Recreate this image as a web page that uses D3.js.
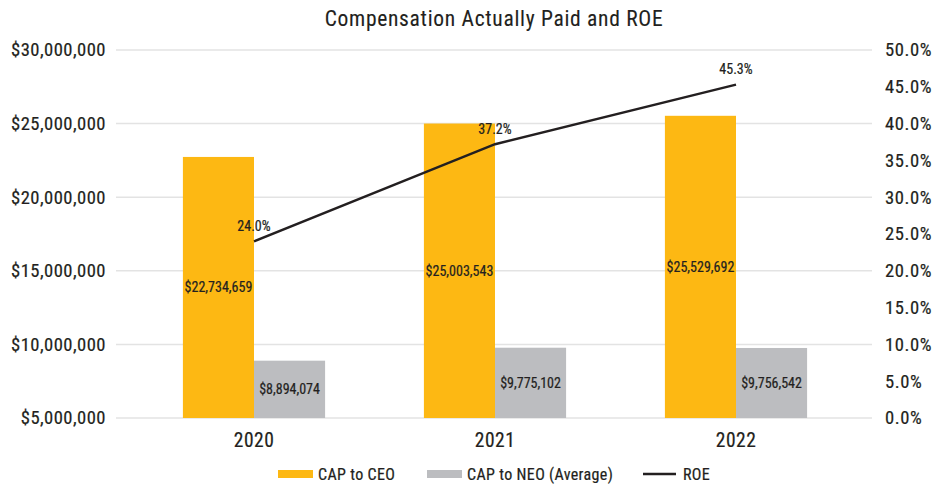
<!DOCTYPE html>
<html>
<head>
<meta charset="utf-8">
<script src="https://cdn.jsdelivr.net/npm/d3@7"></script>
<style>
  html, body { margin: 0; padding: 0; background: #fff; }
  svg { display: block; }
  text { font-family: "Liberation Sans Narrow", "Roboto Condensed", "DejaVu Sans Condensed", sans-serif; fill: #231F20; stroke: #231F20; stroke-width: 0.2px; }
</style>
</head>
<body>
<svg id="chart" width="939" height="484"></svg>
<script>
const years = ["2020", "2021", "2022"];
const capCEO = [22734659, 25003543, 25529692];
const capNEO = [8894074, 9775102, 9756542];
const roe = [24.0, 37.2, 45.3];
const leftTicks = [5000000, 10000000, 15000000, 20000000, 25000000, 30000000];
const rightTicks = [0, 5, 10, 15, 20, 25, 30, 35, 40, 45, 50];
const seriesNames = ["CAP to CEO", "CAP to NEO (Average)", "ROE"];
const title = "Compensation Actually Paid and ROE";

const colors = { ceo: "#FDB813", neo: "#BCBDC0", roe: "#231F20", grid: "#E3E3E3" };

const svg = d3.select("#chart");
const plot = { left: 116, right: 872, top: 50, bottom: 418 };

const x = d3.scaleBand().domain(years).range([133.5, 856.5]).paddingInner(0).paddingOuter(0);
const yL = d3.scaleLinear().domain([5000000, 30000000]).range([plot.bottom, plot.top]);
const yR = d3.scaleLinear().domain([0, 50]).range([plot.bottom, plot.top]);
const barW = x.bandwidth() * 0.295;

const money = d3.format("$,");
const pct = d => d3.format(".1f")(d) + "%";

// title
svg.append("text").attr("x", 494).attr("y", 26).attr("text-anchor", "middle")
  .style("font-size", "21.5px").style("letter-spacing", "0.7px").style("stroke-width", "0.1px").text(title);

// gridlines
svg.append("g").selectAll("line").data(leftTicks).join("line")
  .attr("x1", plot.left).attr("x2", plot.right)
  .attr("y1", d => yL(d)).attr("y2", d => yL(d))
  .attr("stroke", colors.grid).attr("stroke-width", 1.5);

// left axis
const axL = svg.append("g").attr("transform", `translate(${106},0)`)
  .call(d3.axisLeft(yL).tickValues(leftTicks).tickFormat(money).tickSize(0).tickPadding(0));
axL.select(".domain").remove();
axL.selectAll("text").style("font-size", "18.6px").style("letter-spacing", "0.45px")
  .style("font-family", null).attr("fill", "#231F20");

// right axis
const axR = svg.append("g").attr("transform", `translate(${885},0)`)
  .call(d3.axisRight(yR).tickValues(rightTicks).tickFormat(pct).tickSize(0).tickPadding(0));
axR.select(".domain").remove();
axR.selectAll("text").style("font-size", "18.6px").style("letter-spacing", "0.6px")
  .style("font-family", null).attr("fill", "#231F20");

// x axis labels
const axX = svg.append("g").attr("transform", `translate(0,${plot.bottom + 9})`)
  .call(d3.axisBottom(x).tickSize(0).tickPadding(0));
axX.select(".domain").remove();
axX.selectAll("text").style("font-size", "19.5px").style("letter-spacing", "0.5px")
  .style("font-family", null).attr("fill", "#231F20").attr("dy", "1em");

// bars
const g = svg.append("g");
g.selectAll("rect.ceo").data(years).join("rect").attr("class", "ceo")
  .attr("x", d => x(d) + x.bandwidth() / 2 - barW)
  .attr("width", barW)
  .attr("y", (d, i) => yL(capCEO[i]))
  .attr("height", (d, i) => yL(5000000) - yL(capCEO[i]))
  .attr("fill", colors.ceo);
g.selectAll("rect.neo").data(years).join("rect").attr("class", "neo")
  .attr("x", d => x(d) + x.bandwidth() / 2)
  .attr("width", barW)
  .attr("y", (d, i) => yL(capNEO[i]))
  .attr("height", (d, i) => yL(5000000) - yL(capNEO[i]))
  .attr("fill", colors.neo);

// bar labels
g.selectAll("text.ceol").data(years).join("text").attr("class", "ceol")
  .attr("x", d => x(d) + x.bandwidth() / 2 - barW / 2)
  .attr("y", (d, i) => (yL(capCEO[i]) + yL(5000000)) / 2)
  .attr("dy", "0.35em").attr("text-anchor", "middle")
  .style("font-size", "14px")
  .text((d, i) => money(capCEO[i]));
g.selectAll("text.neol").data(years).join("text").attr("class", "neol")
  .attr("x", d => x(d) + x.bandwidth() / 2 + barW / 2)
  .attr("y", (d, i) => (yL(capNEO[i]) + yL(5000000)) / 2)
  .attr("dy", "0.35em").attr("text-anchor", "middle")
  .style("font-size", "14px")
  .text((d, i) => money(capNEO[i]));

// ROE line
const line = d3.line().x((d, i) => x(years[i]) + x.bandwidth() / 2).y(d => yR(d));
svg.append("path").datum(roe).attr("d", line)
  .attr("fill", "none").attr("stroke", colors.roe).attr("stroke-width", 2.5);
svg.append("g").selectAll("text").data(roe).join("text")
  .attr("x", (d, i) => x(years[i]) + x.bandwidth() / 2)
  .attr("y", d => yR(d) - 15)
  .attr("dy", "0.35em").attr("text-anchor", "middle")
  .style("font-size", "14px")
  .text(d => pct(d));

// legend
const legend = svg.append("g").attr("transform", "translate(0,474)");
const legItems = [
  { name: seriesNames[0], type: "rect", color: colors.ceo, x: 278 },
  { name: seriesNames[1], type: "rect", color: colors.neo, x: 427 },
  { name: seriesNames[2], type: "line", color: colors.roe, x: 643 }
];
legItems.forEach(it => {
  if (it.type === "rect") {
    legend.append("rect").attr("x", it.x).attr("y", -4).attr("width", 35).attr("height", 8).attr("fill", it.color);
  } else {
    legend.append("line").attr("x1", it.x).attr("x2", it.x + 33).attr("y1", 0).attr("y2", 0)
      .attr("stroke", it.color).attr("stroke-width", 2.5);
  }
  legend.append("text").attr("x", it.x + 40).attr("y", 0).attr("dy", "0.35em")
    .style("font-size", "16px").style("letter-spacing", "0.35px").text(it.name);
});
</script>
</body>
</html>
